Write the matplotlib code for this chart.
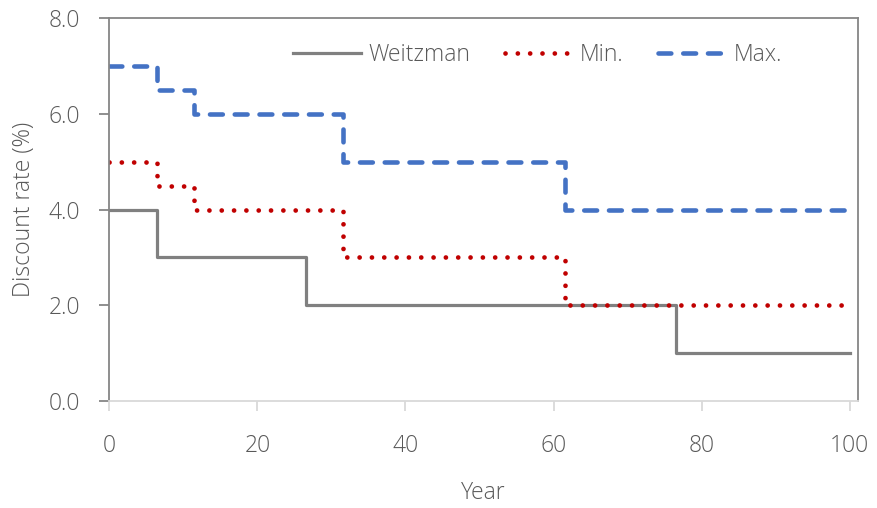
import matplotlib
matplotlib.use("Agg")
import matplotlib.pyplot as plt

# step edges (year) and rate (%) for each scenario
weitzman_edges = [0, 6.5, 26.5, 76.5, 100]
weitzman_rate = [4.0, 3.0, 2.0, 1.0]
min_edges = [0, 6.5, 11.5, 31.5, 61.5, 100]
min_rate = [5.0, 4.5, 4.0, 3.0, 2.0]
max_edges = [0, 6.5, 11.5, 31.5, 61.5, 100]
max_rate = [7.0, 6.5, 6.0, 5.0, 4.0]

x_ticks = [0, 20, 40, 60, 80, 100]
y_ticks = [0, 2, 4, 6, 8]

plt.rcParams['font.family'] = ['Open Sans', 'DejaVu Sans']
plt.rcParams['font.weight'] = 'light'
plt.rcParams['axes.labelweight'] = 'light'
txt = '#595959'
fs = 16.5

fig = plt.figure(figsize=(8.77, 5.08), dpi=100)
ax = fig.add_axes([0.1246, 0.2112, 0.8537, 0.7524])

def steps(edges, vals):
    return edges, list(vals) + [vals[-1]]

x, y = steps(weitzman_edges, weitzman_rate)
ax.step(x, y, where='post', color='#808080', lw=2.3, label='Weitzman')
x, y = steps(min_edges, min_rate)
ax.step(x, y, where='post', color='#C00000', lw=3.4, linestyle=(0, (0.01, 2.6)),
        dash_capstyle='round', label='Min.')
x, y = steps(max_edges, max_rate)
ax.step(x, y, where='post', color='#4472C4', lw=3.3, linestyle=(0, (2.8, 2.6)),
        dash_capstyle='round', label='Max.')

ax.set_xlim(0, 101.1)
ax.set_ylim(0, 8)
ax.set_xticks(x_ticks)
ax.set_yticks(y_ticks)
ax.set_yticklabels([f"{v:.1f}" for v in y_ticks])

for s in ['left', 'top', 'right']:
    ax.spines[s].set_color('#868686')
    ax.spines[s].set_linewidth(1.3)
ax.spines['bottom'].set_color('#d9d9d9')
ax.spines['bottom'].set_linewidth(1.3)

ax.tick_params(axis='y', colors='#868686', length=7.2, width=1.3, labelcolor=txt,
               labelsize=fs, pad=14)
ax.tick_params(axis='x', colors='#d9d9d9', length=7.2, width=1.3, labelcolor=txt,
               labelsize=fs, pad=17)

ax.set_xlabel('Year', color=txt, fontsize=fs, labelpad=16)
ax.set_ylabel('Discount rate (%)', color=txt, fontsize=fs, labelpad=9)

leg = ax.legend(loc='center', bbox_to_anchor=(0.572, 0.9045), ncol=3, frameon=False,
                fontsize=fs, handlelength=3.0, handletextpad=0.3, columnspacing=1.5)
for t in leg.get_texts():
    t.set_color(txt)

fig.savefig('out.png', dpi=100)
